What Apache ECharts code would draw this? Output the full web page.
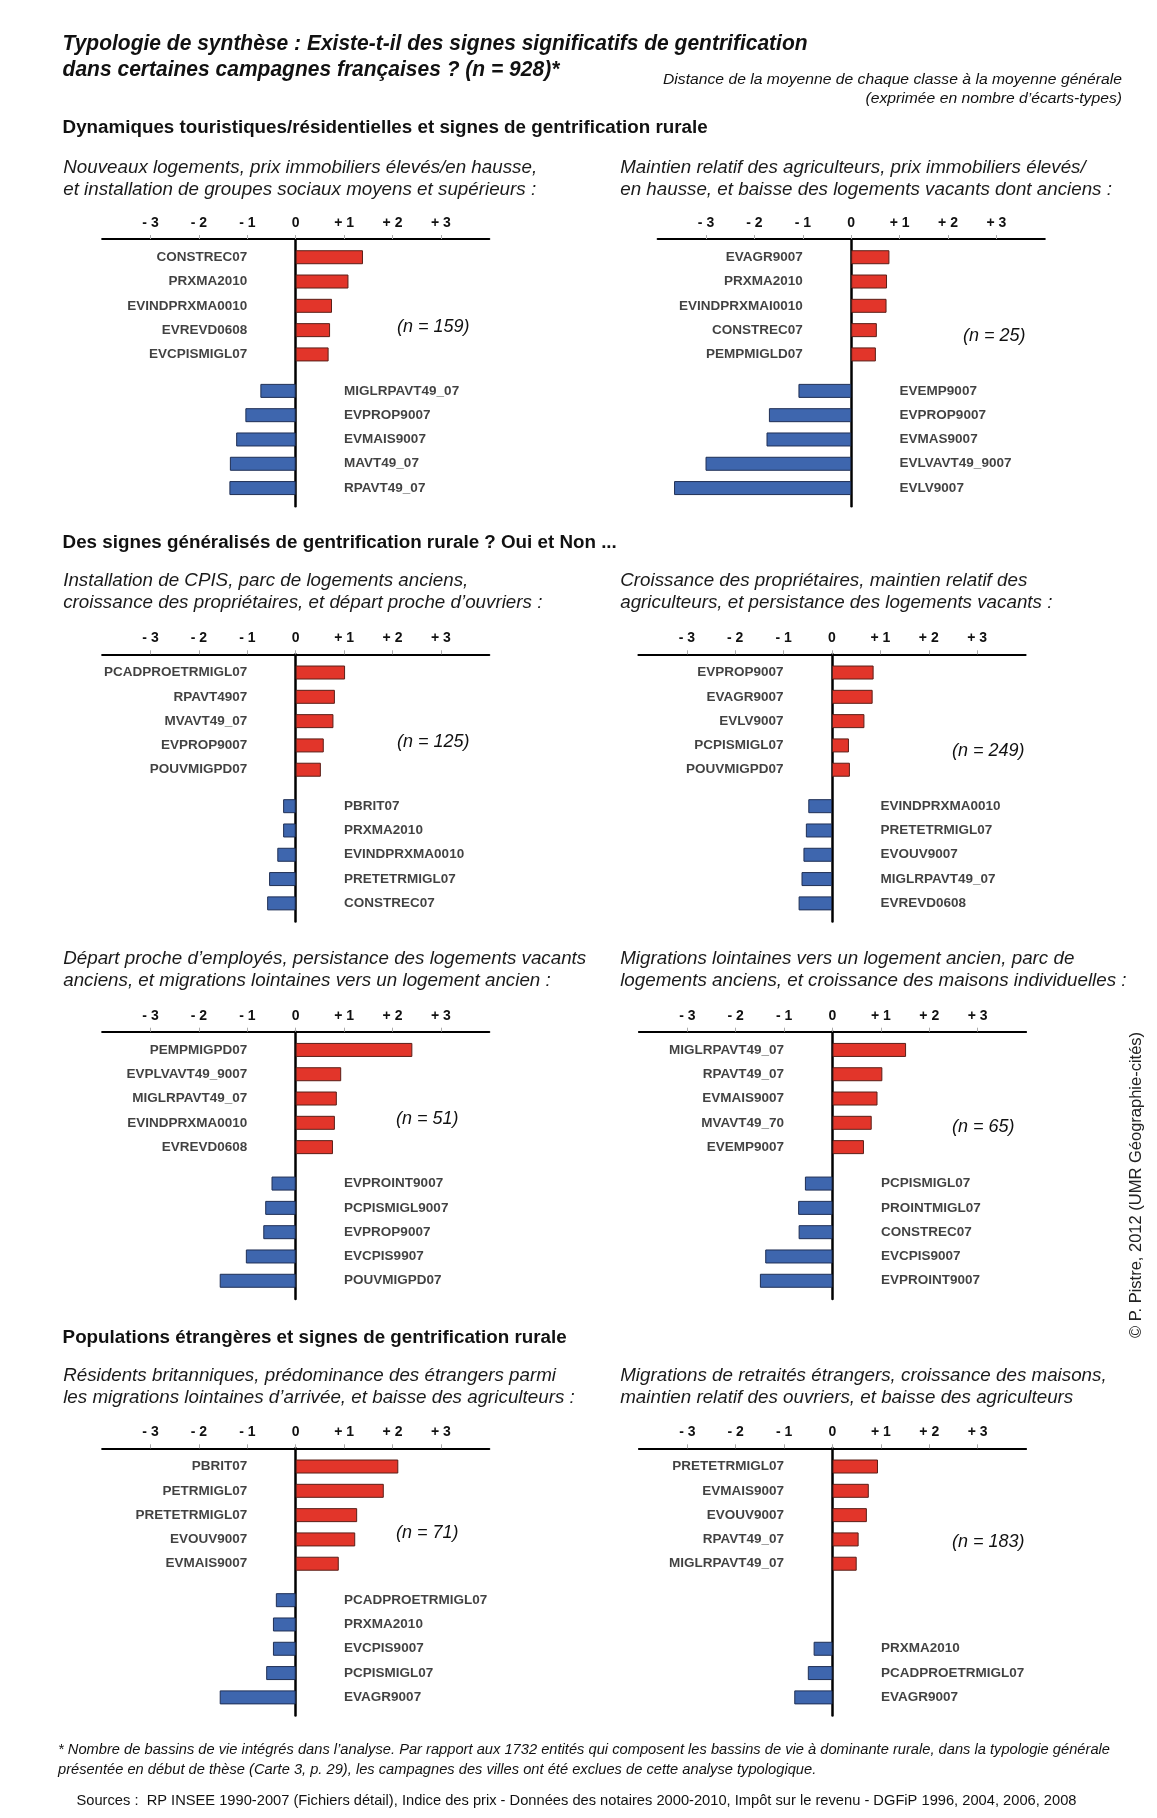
<!DOCTYPE html>
<html lang="fr">
<head>
<meta charset="UTF-8">
<title>Typologie de synthèse - gentrification rurale</title>
<script src="https://cdn.jsdelivr.net/npm/echarts@6/dist/echarts.min.js"></script>
<style>
    html, body { margin: 0; padding: 0; background: #fff; }
    #main { width: 1157px; height: 1818px; }
</style>
</head>
<body>
<div id="main"></div>
<script>
// ---- données (écarts à la moyenne générale, en écarts-types) ----
var p1PosNames = ['CONSTREC07', 'PRXMA2010', 'EVINDPRXMA0010', 'EVREVD0608', 'EVCPISMIGL07'];
var p1PosValues = [1.39, 1.09, 0.75, 0.71, 0.68];
var p1NegNames = ['MIGLRPAVT49_07', 'EVPROP9007', 'EVMAIS9007', 'MAVT49_07', 'RPAVT49_07'];
var p1NegValues = [-0.73, -1.04, -1.23, -1.36, -1.37];

var p2PosNames = ['EVAGR9007', 'PRXMA2010', 'EVINDPRXMAI0010', 'CONSTREC07', 'PEMPMIGLD07'];
var p2PosValues = [0.79, 0.74, 0.73, 0.53, 0.51];
var p2NegNames = ['EVEMP9007', 'EVPROP9007', 'EVMAS9007', 'EVLVAVT49_9007', 'EVLV9007'];
var p2NegValues = [-1.09, -1.70, -1.75, -3.01, -3.66];

var p3PosNames = ['PCADPROETRMIGL07', 'RPAVT4907', 'MVAVT49_07', 'EVPROP9007', 'POUVMIGPD07'];
var p3PosValues = [1.02, 0.81, 0.78, 0.58, 0.52];
var p3NegNames = ['PBRIT07', 'PRXMA2010', 'EVINDPRXMA0010', 'PRETETRMIGL07', 'CONSTREC07'];
var p3NegValues = [-0.26, -0.26, -0.38, -0.55, -0.59];

var p4PosNames = ['EVPROP9007', 'EVAGR9007', 'EVLV9007', 'PCPISMIGL07', 'POUVMIGPD07'];
var p4PosValues = [0.86, 0.84, 0.67, 0.35, 0.37];
var p4NegNames = ['EVINDPRXMA0010', 'PRETETRMIGL07', 'EVOUV9007', 'MIGLRPAVT49_07', 'EVREVD0608'];
var p4NegValues = [-0.49, -0.54, -0.59, -0.63, -0.69];

var p5PosNames = ['PEMPMIGPD07', 'EVPLVAVT49_9007', 'MIGLRPAVT49_07', 'EVINDPRXMA0010', 'EVREVD0608'];
var p5PosValues = [2.41, 0.94, 0.85, 0.81, 0.77];
var p5NegNames = ['EVPROINT9007', 'PCPISMIGL9007', 'EVPROP9007', 'EVCPIS9907', 'POUVMIGPD07'];
var p5NegValues = [-0.50, -0.63, -0.67, -1.03, -1.57];

var p6PosNames = ['MIGLRPAVT49_07', 'RPAVT49_07', 'EVMAIS9007', 'MVAVT49_70', 'EVEMP9007'];
var p6PosValues = [1.52, 1.03, 0.93, 0.81, 0.65];
var p6NegNames = ['PCPISMIGL07', 'PROINTMIGL07', 'CONSTREC07', 'EVCPIS9007', 'EVPROINT9007'];
var p6NegValues = [-0.57, -0.71, -0.70, -1.39, -1.50];

var p7PosNames = ['PBRIT07', 'PETRMIGL07', 'PRETETRMIGL07', 'EVOUV9007', 'EVMAIS9007'];
var p7PosValues = [2.12, 1.82, 1.27, 1.23, 0.89];
var p7NegNames = ['PCADPROETRMIGL07', 'PRXMA2010', 'EVCPIS9007', 'PCPISMIGL07', 'EVAGR9007'];
var p7NegValues = [-0.41, -0.47, -0.47, -0.61, -1.57];

var p8PosNames = ['PRETETRMIGL07', 'EVMAIS9007', 'EVOUV9007', 'RPAVT49_07', 'MIGLRPAVT49_07'];
var p8PosValues = [0.94, 0.75, 0.71, 0.54, 0.50];
var p8NegNames = ['PRXMA2010', 'PCADPROETRMIGL07', 'EVAGR9007'];
var p8NegValues = [-0.39, -0.51, -0.79];

var classSizes = [159, 25, 125, 249, 51, 65, 71, 183];
var tickValues = [-3, -2, -1, 0, 1, 2, 3];

var subtitles = [
    ['Nouveaux logements, prix immobiliers élevés/en hausse,', 'et installation de groupes sociaux moyens et supérieurs :'],
    ['Maintien relatif des agriculteurs, prix immobiliers élevés/', 'en hausse, et baisse des logements vacants dont anciens :'],
    ['Installation de CPIS, parc de logements anciens,', 'croissance des propriétaires, et départ proche d’ouvriers :'],
    ['Croissance des propriétaires, maintien relatif des', 'agriculteurs, et persistance des logements vacants :'],
    ['Départ proche d’employés, persistance des logements vacants', 'anciens, et migrations lointaines vers un logement ancien :'],
    ['Migrations lointaines vers un logement ancien, parc de', 'logements anciens, et croissance des maisons individuelles :'],
    ['Résidents britanniques, prédominance des étrangers parmi', 'les migrations lointaines d’arrivée, et baisse des agriculteurs :'],
    ['Migrations de retraités étrangers, croissance des maisons,', 'maintien relatif des ouvriers, et baisse des agriculteurs']
];
var sections = [
    'Dynamiques touristiques/résidentielles et signes de gentrification rurale',
    'Des signes généralisés de gentrification rurale ? Oui et Non ...',
    'Populations étrangères et signes de gentrification rurale'
];

// ---- mise en page ----
var FONT = '"Liberation Sans", Arial, sans-serif';
var UNIT = 48.4;          // px par écart-type
var SLOT = 12.15;         // demi-ligne
var NSLOT = 22;
var zeroX = [295.7, 851.2, 295.7, 832, 295.7, 832.5, 295.7, 832.5];
var axisTop = [239, 239, 654.3, 654.3, 1031.7, 1031.7, 1448.3, 1448.3];
var nLabelPos = [[397, 326.5], [963, 336], [397, 742], [952, 751], [396, 1118.5], [952, 1127], [396, 1533], [952, 1542]];
var subTop = [167.5, 167.5, 580.8, 580.8, 958.8, 958.8, 1375.5, 1375.5];
var sectionY = [128, 543, 1337.5];

var panels = [
    [p1PosNames, p1PosValues, p1NegNames, p1NegValues],
    [p2PosNames, p2PosValues, p2NegNames, p2NegValues],
    [p3PosNames, p3PosValues, p3NegNames, p3NegValues],
    [p4PosNames, p4PosValues, p4NegNames, p4NegValues],
    [p5PosNames, p5PosValues, p5NegNames, p5NegValues],
    [p6PosNames, p6PosValues, p6NegNames, p6NegValues],
    [p7PosNames, p7PosValues, p7NegNames, p7NegValues],
    [p8PosNames, p8PosValues, p8NegNames, p8NegValues]
];

function tickText(v) {
    if (v === 0) return '0';
    return v > 0 ? '+ ' + v : '- ' + (-v);
}

var slotNames = [];
for (var s = 0; s < NSLOT; s++) slotNames.push('s' + s);

var grids = [], xAxes = [], yAxes = [], series = [], graphics = [];

panels.forEach(function (p, i) {
    var posNames = p[0], posValues = p[1], negNames = p[2], negValues = p[3];
    // lignes : positifs en haut (1,3,5,7,9), négatifs calés en bas (..., 16, 18, 20)
    var posSlots = posValues.map(function (v, k) { return 1 + 2 * k; });
    var negSlots = negValues.map(function (v, k) { return 20 - 2 * (negValues.length - 1 - k); });
    var posData = slotNames.map(function () { return '-'; });
    var negData = slotNames.map(function () { return '-'; });
    posSlots.forEach(function (sl, k) { posData[sl] = posValues[k]; });
    negSlots.forEach(function (sl, k) { negData[sl] = negValues[k]; });

    grids.push({
        left: zeroX[i] - 4 * UNIT, top: axisTop[i],
        width: 8 * UNIT, height: NSLOT * SLOT,
        containLabel: false, outerBoundsMode: 'none'
    });
    xAxes.push({
        gridIndex: i, type: 'value', position: 'top',
        min: -4, max: 4, interval: 1,
        axisLine: { show: true, onZero: false, lineStyle: { color: '#000', width: 2 } },
        axisTick: { show: true, customValues: tickValues, length: 4, lineStyle: { color: '#aaa', width: 1 } },
        axisLabel: {
            customValues: tickValues, formatter: tickText, margin: 9,
            color: '#111', fontWeight: 'bold', fontSize: 14, fontFamily: FONT
        },
        splitLine: { show: false }
    });
    yAxes.push({
        gridIndex: i, type: 'category', data: slotNames, inverse: true,
        axisLine: { show: true, onZero: true, lineStyle: { color: '#000', width: 2.5 } },
        axisTick: { show: false }, axisLabel: { show: false }, splitLine: { show: false }
    });
    series.push({
        type: 'bar', xAxisIndex: i, yAxisIndex: i, data: posData,
        barWidth: 14, barGap: '-100%', silent: true, z: 1,
        itemStyle: { color: '#E2352A', borderColor: '#5a1f18', borderWidth: 1 }
    });
    series.push({
        type: 'bar', xAxisIndex: i, yAxisIndex: i, data: negData,
        barWidth: 14, barGap: '-100%', silent: true, z: 1,
        itemStyle: { color: '#3E66AE', borderColor: '#1f2f55', borderWidth: 1 }
    });
    series.push({
        type: 'scatter', xAxisIndex: i, yAxisIndex: i, symbolSize: 0, silent: true,
        data: posNames.map(function (n, k) { return [-1, posSlots[k], n]; }),
        label: {
            show: true, position: 'left', distance: 0,
            formatter: function (pr) { return pr.data[2]; },
            color: '#111', fontWeight: 'bold', fontSize: 13.5, fontFamily: FONT
        }
    });
    series.push({
        type: 'scatter', xAxisIndex: i, yAxisIndex: i, symbolSize: 0, silent: true,
        data: negNames.map(function (n, k) { return [1, negSlots[k], n]; }),
        label: {
            show: true, position: 'right', distance: 0,
            formatter: function (pr) { return pr.data[2]; },
            color: '#111', fontWeight: 'bold', fontSize: 13.5, fontFamily: FONT
        }
    });

    // effectif de la classe
    graphics.push({
        type: 'text', x: nLabelPos[i][0], y: nLabelPos[i][1],
        style: { text: '(n = ' + classSizes[i] + ')', font: 'italic 18px ' + FONT, fill: '#111', textAlign: 'left', textVerticalAlign: 'middle' }
    });
    // intitulé de la classe
    var colX = (i % 2 === 0) ? 63.2 : 620.2;
    subtitles[i].forEach(function (line, k) {
        graphics.push({
            type: 'text', x: colX, y: subTop[i] + k * 22.3,
            style: { text: line, font: 'italic 18.8px ' + FONT, fill: '#1a1a1a', textAlign: 'left', textVerticalAlign: 'middle' }
        });
    });
});

sections.forEach(function (t, k) {
    graphics.push({
        type: 'text', x: 62.6, y: sectionY[k],
        style: { text: t, font: 'bold 18.8px ' + FONT, fill: '#111', textAlign: 'left', textVerticalAlign: 'middle' }
    });
});

// textes en police étroite : on resserre horizontalement
var measureCtx = document.createElement('canvas').getContext('2d');
function fitScale(text, font, width) {
    measureCtx.font = font;
    return width / measureCtx.measureText(text).width;
}
function narrowText(lines, font, x, y0, dy, targetWidth, align) {
    var sc = fitScale(lines[0], font, targetWidth);
    lines.forEach(function (line, k) {
        graphics.push({
            type: 'text', x: x, y: y0 + k * dy, scaleX: sc,
            style: { text: line, font: font, fill: '#111', textAlign: align, textVerticalAlign: 'middle' }
        });
    });
}

narrowText(['Typologie de synthèse : Existe-t-il des signes significatifs de gentrification',
            'dans certaines campagnes françaises ? (n = 928)*'],
    'italic bold 21.5px ' + FONT, 62.6, 44.2, 25.5, 745, 'left');
narrowText(['Distance de la moyenne de chaque classe à la moyenne générale',
            '(exprimée en nombre d’écarts-types)'],
    'italic 15.5px ' + FONT, 1122, 80, 18.6, 459, 'right');
narrowText(['* Nombre de bassins de vie intégrés dans l’analyse. Par rapport aux 1732 entités qui composent les bassins de vie à dominante rurale, dans la typologie générale',
            'présentée en début de thèse (Carte 3, p. 29), les campagnes des villes ont été exclues de cette analyse typologique.'],
    'italic 15px ' + FONT, 58, 1750, 20, 1052, 'left');
narrowText(['Sources :  RP INSEE 1990-2007 (Fichiers détail), Indice des prix - Données des notaires 2000-2010, Impôt sur le revenu - DGFiP 1996, 2004, 2006, 2008'],
    '15px ' + FONT, 76.5, 1801, 20, 1000, 'left');

graphics.push({
    type: 'text', x: 1136, y: 1185, rotation: Math.PI / 2,
    style: { text: '© P. Pistre, 2012 (UMR Géographie-cités)', font: '16.5px ' + FONT, fill: '#222', textAlign: 'center', textVerticalAlign: 'middle' }
});

var myChart = echarts.init(document.getElementById('main'), null, { renderer: 'canvas' });
myChart.setOption({
    backgroundColor: '#fff',
    animation: false,
    grid: grids,
    xAxis: xAxes,
    yAxis: yAxes,
    series: series,
    graphic: { elements: graphics }
});
</script>
</body>
</html>
